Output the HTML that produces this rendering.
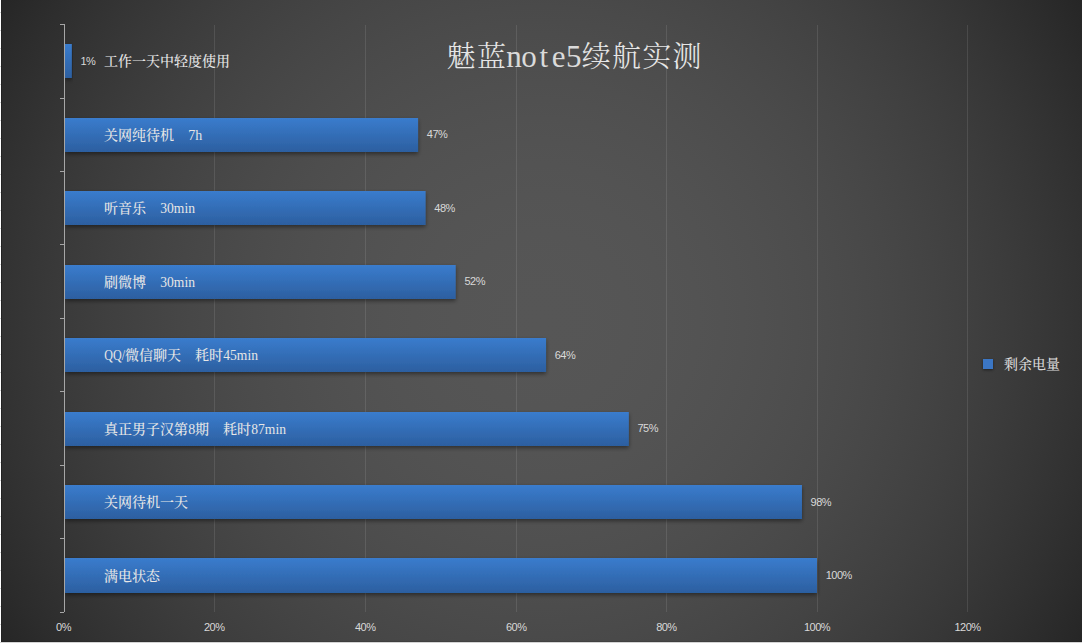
<!DOCTYPE html>
<html><head><meta charset="utf-8"><title>魅蓝note5续航实测</title><style>
html,body{margin:0;padding:0;width:1082px;height:643px;overflow:hidden;background:#d4d4d4;}
#chart{position:absolute;left:1px;top:0;width:1081px;height:642px;background:radial-gradient(circle 628px at 540px 321px, rgb(86.0,86.0,86.0) 0.00%, rgb(85.8,85.8,85.8) 6.25%, rgb(85.2,85.2,85.2) 12.50%, rgb(84.3,84.3,84.3) 18.75%, rgb(83.0,83.0,83.0) 25.00%, rgb(81.3,81.3,81.3) 31.25%, rgb(79.2,79.2,79.2) 37.50%, rgb(76.8,76.8,76.8) 43.75%, rgb(74.0,74.0,74.0) 50.00%, rgb(70.8,70.8,70.8) 56.25%, rgb(67.2,67.2,67.2) 62.50%, rgb(63.3,63.3,63.3) 68.75%, rgb(59.0,59.0,59.0) 75.00%, rgb(54.3,54.3,54.3) 81.25%, rgb(49.2,49.2,49.2) 87.50%, rgb(43.8,43.8,43.8) 93.75%, rgb(38.0,38.0,38.0) 100.00%);}
#lc{position:absolute;left:0;top:0;width:1px;height:643px;background:repeating-linear-gradient(to bottom,#fff 0,#fff 12px,#d4d4d4 12px,#d4d4d4 13px,#fff 13px,#fff 18px);}
#lb{position:absolute;left:1px;top:0;width:1px;height:642px;background:#222;}
#bb{position:absolute;left:1px;top:641px;width:1081px;height:1px;background:rgba(0,0,0,0.1);}
#bt{position:absolute;left:0;top:642px;width:1082px;height:1px;background:#d4d4d4;}
svg{position:absolute;left:0;top:0;}
.vl,.ax{font-family:"Liberation Sans",sans-serif;font-size:11px;fill:#d9d9d9;letter-spacing:-0.5px;}
.cl{font-family:"Liberation Serif","Noto Serif CJK SC",serif;font-size:14px;fill:#e6e6e6;font-weight:500;}
.tt{font-family:"Liberation Serif","Noto Serif CJK SC",serif;font-size:29px;fill:#e6e6e6;font-weight:300;}
.tl{font-size:31px;font-weight:400;fill:#dadada;}
.lg{font-family:"Liberation Serif","Noto Serif CJK SC",serif;font-size:14px;fill:#d9d9d9;font-weight:500;}
.lt{font-weight:400;}
</style></head><body>
<div id="chart"></div>
<div id="lc"></div>
<div id="lb"></div>
<div id="bb"></div>
<div id="bt"></div>
<svg width="1082" height="643" viewBox="0 0 1082 643">
<defs>
<linearGradient id="bg1" x1="0" y1="0" x2="0" y2="1">
<stop offset="0" stop-color="rgb(58,124,205)"/><stop offset="1" stop-color="rgb(44,95,160)"/>
</linearGradient>
<filter id="sh" x="-5%" y="-40%" width="110%" height="200%">
<feGaussianBlur in="SourceAlpha" stdDeviation="2"/>
<feOffset dx="0" dy="2.4"/>
<feComponentTransfer><feFuncA type="linear" slope="0.45"/></feComponentTransfer>
<feMerge><feMergeNode/><feMergeNode in="SourceGraphic"/></feMerge>
</filter>
<filter id="gl" x="-60%" y="-60%" width="220%" height="220%">
<feGaussianBlur in="SourceAlpha" stdDeviation="1.8"/>
<feOffset dx="0" dy="0.8"/>
<feComponentTransfer><feFuncA type="linear" slope="0.5"/></feComponentTransfer>
<feMerge><feMergeNode/><feMergeNode in="SourceGraphic"/></feMerge>
</filter>
</defs>
<rect x="214" y="25" width="1" height="587" fill="#fff" fill-opacity="0.1"/>
<rect x="365" y="25" width="1" height="587" fill="#fff" fill-opacity="0.1"/>
<rect x="516" y="25" width="1" height="587" fill="#fff" fill-opacity="0.1"/>
<rect x="666" y="25" width="1" height="587" fill="#fff" fill-opacity="0.1"/>
<rect x="817" y="25" width="1" height="587" fill="#fff" fill-opacity="0.1"/>
<rect x="967" y="25" width="1" height="587" fill="#fff" fill-opacity="0.1"/>
<rect x="65" y="44" width="6.83" height="34" fill="url(#bg1)" filter="url(#sh)"/>
<rect x="65" y="118" width="353.07" height="34" fill="url(#bg1)" filter="url(#sh)"/>
<rect x="65" y="191" width="360.60" height="34" fill="url(#bg1)" filter="url(#sh)"/>
<rect x="65" y="265" width="390.70" height="34" fill="url(#bg1)" filter="url(#sh)"/>
<rect x="65" y="338" width="481.03" height="34" fill="url(#bg1)" filter="url(#sh)"/>
<rect x="65" y="412" width="563.82" height="34" fill="url(#bg1)" filter="url(#sh)"/>
<rect x="65" y="485" width="736.95" height="34" fill="url(#bg1)" filter="url(#sh)"/>
<rect x="65" y="558" width="752.00" height="35" fill="url(#bg1)" filter="url(#sh)"/>
<rect x="64" y="24" width="1" height="588" fill="#a6a6a6"/>
<rect x="60" y="24" width="4" height="1" fill="#a6a6a6"/>
<rect x="60" y="98" width="4" height="1" fill="#a6a6a6"/>
<rect x="60" y="171" width="4" height="1" fill="#a6a6a6"/>
<rect x="60" y="244" width="4" height="1" fill="#a6a6a6"/>
<rect x="60" y="318" width="4" height="1" fill="#a6a6a6"/>
<rect x="60" y="391" width="4" height="1" fill="#a6a6a6"/>
<rect x="60" y="465" width="4" height="1" fill="#a6a6a6"/>
<rect x="60" y="538" width="4" height="1" fill="#a6a6a6"/>
<rect x="60" y="612" width="4" height="1" fill="#a6a6a6"/>
<rect x="983" y="359" width="10" height="10" fill="rgb(58,118,196)" filter="url(#gl)"/>
<text class="vl" x="80.5" y="64.8">1%</text>
<text class="cl" x="104.00" y="66.25">工作一天中轻度使用</text>
<text class="vl" x="426.8" y="138.3">47%</text>
<text class="cl" x="104.00" y="139.75">关网纯待机　</text><text class="cl lt" x="188.30" y="139.75">7h</text>
<text class="vl" x="434.3" y="211.8">48%</text>
<text class="cl" x="104.00" y="213.25">听音乐　</text><text class="cl lt" x="160.30" y="213.25" textLength="34.70" lengthAdjust="spacingAndGlyphs">30min</text>
<text class="vl" x="464.4" y="285.4">52%</text>
<text class="cl" x="104.00" y="286.75">刷微博　</text><text class="cl lt" x="160.30" y="286.75" textLength="34.70" lengthAdjust="spacingAndGlyphs">30min</text>
<text class="vl" x="554.7" y="358.9">64%</text>
<text class="cl lt" x="104.30" y="360.25" textLength="20.70" lengthAdjust="spacingAndGlyphs">QQ/</text><text class="cl" x="125.00" y="360.25">微信聊天　耗时</text><text class="cl lt" x="223.30" y="360.25" textLength="34.70" lengthAdjust="spacingAndGlyphs">45min</text>
<text class="vl" x="637.5" y="432.4">75%</text>
<text class="cl" x="104.00" y="433.75">真正男子汉第</text><text class="cl lt" x="188.30" y="433.75">8</text><text class="cl" x="195.00" y="433.75">期　耗时</text><text class="cl lt" x="251.30" y="433.75" textLength="34.70" lengthAdjust="spacingAndGlyphs">87min</text>
<text class="vl" x="810.6" y="505.9">98%</text>
<text class="cl" x="104.00" y="507.25">关网待机一天</text>
<text class="vl" x="825.7" y="579.4">100%</text>
<text class="cl" x="104.00" y="580.75">满电状态</text>
<text class="ax" x="63.5" y="631" text-anchor="middle">0%</text>
<text class="ax" x="214.2" y="631" text-anchor="middle">20%</text>
<text class="ax" x="365.2" y="631" text-anchor="middle">40%</text>
<text class="ax" x="516.2" y="631" text-anchor="middle">60%</text>
<text class="ax" x="666.4" y="631" text-anchor="middle">80%</text>
<text class="ax" x="817" y="631" text-anchor="middle">100%</text>
<text class="ax" x="967.5" y="631" text-anchor="middle">120%</text>
<text class="tt" y="67"><tspan x="446.60 476.90">魅蓝</tspan><tspan class="tl" x="506.30 521.20 539.54 551.87 565.90">note5</tspan><tspan x="581.70 612.00 642.30 672.60">续航实测</tspan></text>
<text class="lg" x="1004" y="369">剩余电量</text>
</svg>
</body></html>
